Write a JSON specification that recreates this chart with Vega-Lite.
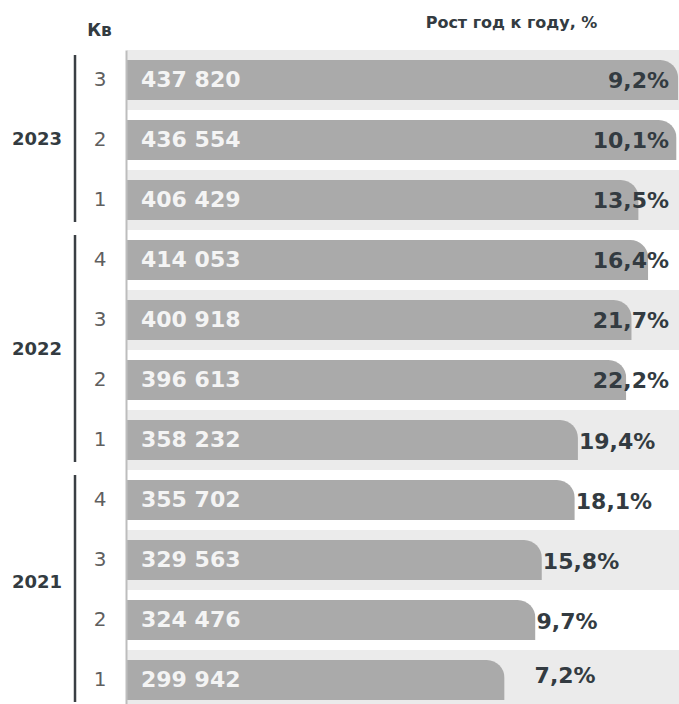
{
  "$schema": "https://vega.github.io/schema/vega-lite/v6.json",
  "autosize": {"type": "none"},
  "padding": {"left": 127, "top": 50, "right": 0, "bottom": 0},
  "width": 552,
  "height": 654,
  "background": "white",
  "config": {
    "view": {"stroke": null},
    "font": "DejaVu Sans",
    "locale": {"number": {"decimal": ",", "thousands": " ", "grouping": [3], "currency": ["", ""]}}
  },
  "datasets": {
    "rows": [
      {"key": "2023-3", "year": "2023", "q": "3", "value": 437820, "growth": 0.092},
      {"key": "2023-2", "year": "2023", "q": "2", "value": 436554, "growth": 0.101},
      {"key": "2023-1", "year": "2023", "q": "1", "value": 406429, "growth": 0.135},
      {"key": "2022-4", "year": "2022", "q": "4", "value": 414053, "growth": 0.164},
      {"key": "2022-3", "year": "2022", "q": "3", "value": 400918, "growth": 0.217},
      {"key": "2022-2", "year": "2022", "q": "2", "value": 396613, "growth": 0.222},
      {"key": "2022-1", "year": "2022", "q": "1", "value": 358232, "growth": 0.194},
      {"key": "2021-4", "year": "2021", "q": "4", "value": 355702, "growth": 0.181},
      {"key": "2021-3", "year": "2021", "q": "3", "value": 329563, "growth": 0.158},
      {"key": "2021-2", "year": "2021", "q": "2", "value": 324476, "growth": 0.097},
      {"key": "2021-1", "year": "2021", "q": "1", "value": 299942, "growth": 0.072}
    ],
    "years": [
      {"year": "2023", "first": "2023-3", "last": "2023-1", "mid": "2023-2"},
      {"year": "2022", "first": "2022-4", "last": "2022-1", "mid": "2022-3"},
      {"year": "2021", "first": "2021-4", "last": "2021-1", "mid": "2021-3"}
    ]
  },
  "layer": [
    {
      "data": {"name": "rows"},
      "transform": [
        {"window": [{"op": "row_number", "as": "rn"}]},
        {"filter": "datum.rn % 2 == 1"}
      ],
      "mark": {"type": "rect", "color": "#ebebeb"},
      "encoding": {
        "y": {"field": "key", "type": "nominal", "sort": null,
          "scale": {"domain": ["2023-3", "2023-2", "2023-1", "2022-4", "2022-3", "2022-2", "2022-1", "2021-4", "2021-3", "2021-2", "2021-1"],
            "range": [0, 660], "paddingInner": 0, "paddingOuter": 0},
          "axis": {
            "orient": "left", "offset": 1, "ticks": false,
            "domainColor": "#bdbdbd", "domainWidth": 2,
            "labelExpr": "split(datum.label, '-')[1]",
            "labelFontSize": 20, "labelColor": "#5f5f5f", "labelPadding": 20,
            "labelFont": "DejaVu Sans",
            "title": "Кв", "titleAngle": 0, "titleX": -27, "titleY": -20,
            "titleAlign": "center", "titleBaseline": "middle",
            "titleFontSize": 17, "titleFontWeight": "bold", "titleColor": "#333b41"
          }},
        "x": {"datum": 0, "type": "quantitative",
          "scale": {"domain": [0, 438500], "nice": false, "zero": true},
          "axis": {
            "orient": "top", "labels": false, "ticks": false, "domain": false, "grid": false,
            "title": "Рост год к году, %", "titleX": 384, "titleY": -28,
            "titleAlign": "center", "titleBaseline": "middle",
            "titleFontSize": 16, "titleFontWeight": "bold", "titleColor": "#333b41"
          }},
        "x2": {"datum": 438500}
      }
    },
    {
      "data": {"name": "rows"},
      "mark": {"type": "bar", "color": "#aaaaaa", "height": {"band": 0.6667}, "cornerRadiusTopRight": 18},
      "encoding": {
        "y": {"field": "key", "type": "nominal", "sort": null},
        "x": {"field": "value", "type": "quantitative"}
      }
    },
    {
      "data": {"name": "rows"},
      "mark": {"type": "text", "align": "left", "baseline": "middle", "dx": 14, "fontSize": 22, "fontWeight": "bold", "color": "#f4f4f4"},
      "encoding": {
        "y": {"field": "key", "type": "nominal", "sort": null},
        "x": {"datum": 0, "type": "quantitative"},
        "text": {"field": "value", "type": "quantitative", "format": ",d"}
      }
    },
    {
      "data": {"name": "rows"},
      "transform": [{"filter": "datum.value >= 390000"}],
      "mark": {"type": "text", "align": "right", "baseline": "middle", "dx": -10, "dy": 1, "fontSize": 22, "fontWeight": "bold", "color": "#333b41"},
      "encoding": {
        "y": {"field": "key", "type": "nominal", "sort": null},
        "x": {"datum": 438500, "type": "quantitative"},
        "text": {"field": "growth", "type": "quantitative", "format": ".1%"}
      }
    },
    {
      "data": {"name": "rows"},
      "transform": [{"filter": "datum.value < 390000 && datum.value > 300000"}],
      "mark": {"type": "text", "align": "left", "baseline": "middle", "dx": 1, "dy": 2, "fontSize": 22, "fontWeight": "bold", "color": "#333b41"},
      "encoding": {
        "y": {"field": "key", "type": "nominal", "sort": null},
        "x": {"field": "value", "type": "quantitative"},
        "text": {"field": "growth", "type": "quantitative", "format": ".1%"}
      }
    },
    {
      "data": {"name": "rows"},
      "transform": [{"filter": "datum.value <= 300000"}],
      "mark": {"type": "text", "align": "left", "baseline": "middle", "dx": 30, "dy": -4, "fontSize": 22, "fontWeight": "bold", "color": "#333b41"},
      "encoding": {
        "y": {"field": "key", "type": "nominal", "sort": null},
        "x": {"field": "value", "type": "quantitative"},
        "text": {"field": "growth", "type": "quantitative", "format": ".1%"}
      }
    },
    {
      "data": {"name": "years"},
      "mark": {"type": "rule", "color": "#3a3f44", "strokeWidth": 2.5, "yOffset": -25, "y2Offset": 22},
      "encoding": {
        "y": {"field": "first", "type": "nominal", "sort": null},
        "y2": {"field": "last"},
        "x": {"datum": -41300, "type": "quantitative"}
      }
    },
    {
      "data": {"name": "years"},
      "transform": [{"filter": "datum.year == '2023'"}],
      "mark": {"type": "text", "align": "right", "baseline": "middle", "fontSize": 18, "fontWeight": "bold", "color": "#333b41"},
      "encoding": {
        "y": {"field": "mid", "type": "nominal", "sort": null},
        "x": {"datum": -51600, "type": "quantitative"},
        "text": {"field": "year"}
      }
    },
    {
      "data": {"name": "years"},
      "transform": [{"filter": "datum.year == '2022'"}],
      "mark": {"type": "text", "align": "right", "baseline": "middle", "fontSize": 18, "fontWeight": "bold", "color": "#333b41"},
      "encoding": {
        "y": {"field": "mid", "type": "nominal", "sort": null, "bandPosition": 1},
        "x": {"datum": -51600, "type": "quantitative"},
        "text": {"field": "year"}
      }
    },
    {
      "data": {"name": "years"},
      "transform": [{"filter": "datum.year == '2021'"}],
      "mark": {"type": "text", "align": "right", "baseline": "middle", "dy": -7, "fontSize": 18, "fontWeight": "bold", "color": "#333b41"},
      "encoding": {
        "y": {"field": "mid", "type": "nominal", "sort": null, "bandPosition": 1},
        "x": {"datum": -51600, "type": "quantitative"},
        "text": {"field": "year"}
      }
    }
  ]
}
